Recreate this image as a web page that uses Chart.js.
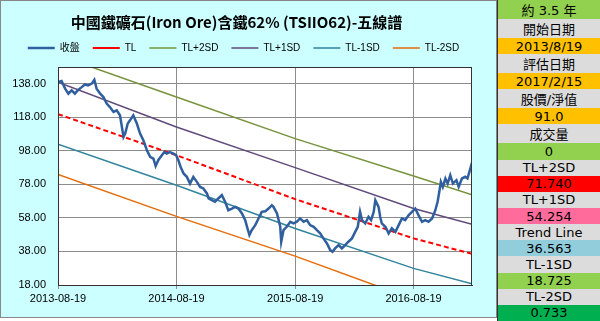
<!DOCTYPE html>
<html>
<head>
<meta charset="utf-8">
<script src="https://cdn.jsdelivr.net/npm/chart.js@4/dist/chart.umd.min.js"></script>
<style>
body{margin:0;width:600px;height:321px;overflow:hidden;background:#fff}
#panel{position:absolute;left:0;top:0;width:497px;height:318px;box-sizing:border-box;background:#ccffff;border:1px solid #888}
#side{position:absolute;left:497px;top:0;width:103px;height:321px;box-sizing:border-box;border-left:1px solid #333;display:flex;flex-direction:column}
#side div{flex:1;display:flex;align-items:center;justify-content:center;font:13px "DejaVu Sans","Noto Sans CJK TC",sans-serif;color:#000}
.g{background:#dcdcdc}.o{background:#ffc000}.lg{background:#92d050}
</style>
</head>
<body>
<div id="panel"><canvas id="c" width="495" height="316"></canvas></div>
<div id="side">
<div class="lg">約 3.5 年</div>
<div class="g">開始日期</div>
<div class="o">2013/8/19</div>
<div class="g">評估日期</div>
<div class="o">2017/2/15</div>
<div class="g">股價/淨值</div>
<div class="o">91.0</div>
<div class="g">成交量</div>
<div class="lg">0</div>
<div class="g">TL+2SD</div>
<div style="background:#ff0000">71.740</div>
<div class="g">TL+1SD</div>
<div style="background:#ff6c9c">54.254</div>
<div class="g">Trend Line</div>
<div style="background:#92cddc">36.563</div>
<div class="g">TL-1SD</div>
<div class="lg">18.725</div>
<div class="g">TL-2SD</div>
<div style="background:#00b050">0.733</div>
</div>
<script>
// x in days since 2013-08-19
const tickDays=[0,365,731,1096]
const tickLabels=["2013-08-19","2014-08-19","2015-08-19","2016-08-19"]
const yTicks=[18,38,58,78,98,118,138]

const priceDays=[
0,11,22,32,42,52,63,73,83,93,
104,112,119,130,140,150,160,171,181,191,
202,207,215,222,232,243,253,263,274,284,
294,301,309,320,328,335,345,356,364,371,
378,387,397,407,417,428,438,448,459,464,
474,484,494,505,515,525,536,546,556,567,
577,584,590,597,608,618,628,639,649,659,
664,675,685,688,695,705,716,726,736,746,
757,767,777,788,798,808,818,829,839,846,
854,865,875,885,895,906,916,924,931,937,
947,957,965,973,978,988,993,998,1009,1019,
1029,1040,1050,1060,1070,1081,1091,1101,1111,1122,
1132,1142,1153,1163,1170,1176,1180,1186,1194,1201,
1209,1217,1228,1235,1245,1255,1262,1268,1276]
const priceVals=[
139.0,139.6,135.1,132.1,134.1,132.1,134.5,136.0,137.6,137.0,
138.1,140.4,135.1,132.1,130.1,126.2,124.1,121.2,122.2,119.2,
106.3,108.3,114.3,116.2,119.2,114.3,108.3,104.3,98.4,94.4,
93.4,89.0,92.4,95.4,97.3,96.4,97.3,96.4,95.4,92.4,
88.4,84.5,82.5,78.5,82.5,79.5,76.5,75.6,72.6,69.6,
68.6,67.6,69.6,71.6,67.6,62.6,63.6,64.6,63.6,60.7,
56.7,51.8,47.8,50.7,53.7,57.7,61.6,62.0,63.6,65.6,
64.6,60.7,52.7,43.8,50.7,52.7,55.7,54.7,55.7,57.7,
55.7,56.7,53.7,52.7,50.7,48.8,45.8,42.8,38.8,37.8,
39.8,41.8,39.8,41.8,43.8,45.8,49.7,52.7,61.6,56.7,
54.7,58.7,56.7,61.6,68.6,64.6,58.7,54.7,52.7,48.8,
51.8,49.7,53.7,57.7,56.7,59.7,61.6,63.6,59.7,55.7,
56.7,55.7,57.7,62.6,67.6,74.5,79.5,76.5,81.5,78.5,
83.5,78.5,80.5,76.5,81.5,82.5,81.5,85.4,91.0]

const lineDays=[0,365,731,1096,1276]
const tl=[119.9,95.4,69.2,45.8,36.563]
const tlP2=[155.0,130.1,105.3,83.0,71.740]
const tlP1=[139.0,112.2,88.0,63.6,54.254]
const tlM1=[101.9,77.5,51.7,27.9,18.725]
const tlM2=[83.9,58.9,35.2,9.5,0.733]

function pts(xs,ys){
return xs.map((x,i)=>({x:x,y:ys[i]}))
}

function line(label,xs,ys,color,width,dash){
return {
label:label,
data:pts(xs,ys),
borderColor:color,
backgroundColor:color,
borderWidth:width,
borderDash:dash||[],
pointRadius:0,
pointStyle:"line",
tension:0
}
}

const frame={
id:"frame",
beforeInit(chart){
const lg=chart.legend
const fit=lg.fit
lg.fit=function(){
fit.call(this)
this.height+=3
}
// legend sits a little right of centre in the original
const draw=lg.draw
lg.draw=function(){
this.ctx.save()
this.ctx.translate(7,-1)
draw.call(this)
this.ctx.restore()
}
},
beforeDraw(chart){
const a=chart.chartArea,ctx=chart.ctx
ctx.save()
ctx.fillStyle="#fff"
ctx.fillRect(a.left,a.top,a.width,a.height)
ctx.restore()
},
afterDraw(chart){
const a=chart.chartArea,ctx=chart.ctx
ctx.save()
ctx.strokeStyle="#333"
ctx.lineWidth=1
ctx.strokeRect(a.left+0.5,a.top+0.5,a.width-1,a.height)
ctx.restore()
}
}

const latin="'Liberation Sans','Noto Sans CJK TC',sans-serif"

new Chart(document.getElementById("c"),{
type:"line",
data:{
datasets:[
line("收盤",priceDays,priceVals,"#2f5f9e",2.5),
line("TL",lineDays,tl,"#ff0000",2,[5,3]),
line("TL+2SD",lineDays,tlP2,"#77933c",1.5),
line("TL+1SD",lineDays,tlP1,"#604a7b",1.5),
line("TL-1SD",lineDays,tlM1,"#31859c",1.5),
line("TL-2SD",lineDays,tlM2,"#e46c0a",1.5)
]
},
options:{
responsive:false,
animation:false,
devicePixelRatio:1,
layout:{padding:{left:0,right:24,top:0,bottom:0}},
plugins:{
title:{
display:true,
text:"中國鐵礦石(Iron Ore)含鐵62% (TSIIO62)-五線譜",
color:"#000",
font:{family:"'Noto Sans CJK TC',sans-serif",size:15,weight:"bold"},
padding:{top:12,bottom:0}
},
legend:{
labels:{
color:"#000",
font:{family:latin,size:10},
usePointStyle:true,
pointStyleWidth:27,
padding:13
}
},
tooltip:{enabled:false}
},
scales:{
x:{
type:"linear",
min:0,
max:1276,
afterBuildTicks(s){s.ticks=tickDays.map(v=>({value:v}))},
afterFit(s){s.height=32},
grid:{color:"#8c8c8c",tickLength:4,drawOnChartArea:true},
border:{color:"#333"},
ticks:{
color:"#000",
font:{family:latin,size:11},
padding:3,
maxRotation:0,
autoSkip:false,
callback:(v)=>tickLabels[tickDays.indexOf(v)]
}
},
y:{
min:18,
max:148,
afterBuildTicks(s){s.ticks=yTicks.map(v=>({value:v}))},
afterFit(s){s.width=57},
grid:{color:"#8c8c8c",drawTicks:false},
border:{color:"#333"},
ticks:{
color:"#000",
font:{family:latin,size:11},
padding:12,
callback:(v)=>v.toFixed(2)
}
}
}
},
plugins:[frame]
})
</script>
</body>
</html>
